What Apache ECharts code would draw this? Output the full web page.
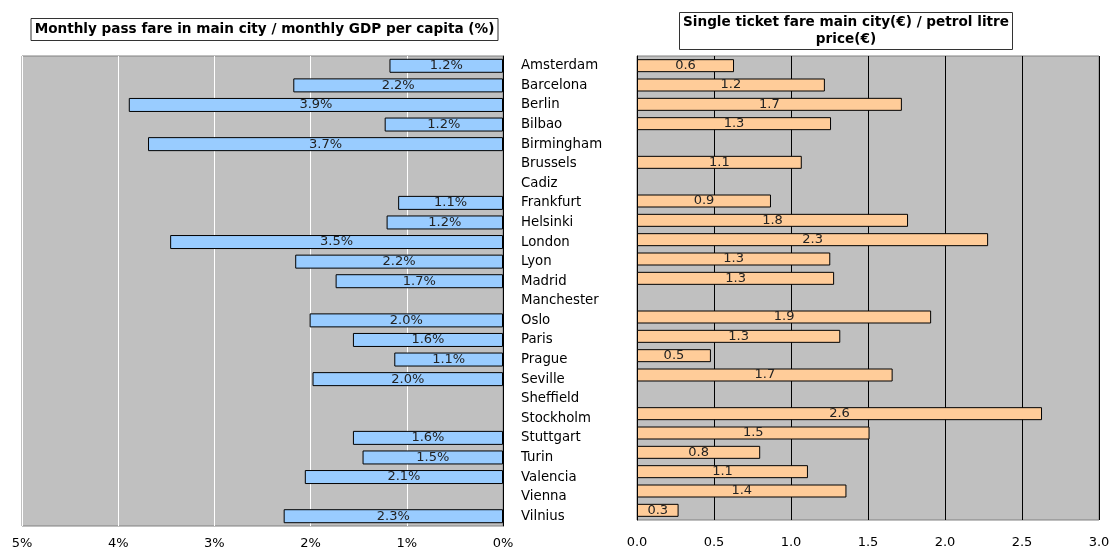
<!DOCTYPE html>
<html>
<head>
<meta charset="utf-8">
<script src="https://cdn.jsdelivr.net/npm/echarts@6/dist/echarts.min.js"></script>
<style>
  html, body { margin: 0; padding: 0; background: #fff; }
  #main { width: 1109px; height: 547px; }
</style>
</head>
<body>
<div id="main"></div>
<script>
var cities = ['Amsterdam', 'Barcelona', 'Berlin', 'Bilbao', 'Birmingham', 'Brussels', 'Cadiz',
    'Frankfurt', 'Helsinki', 'London', 'Lyon', 'Madrid', 'Manchester', 'Oslo', 'Paris', 'Prague',
    'Seville', 'Sheffield', 'Stockholm', 'Stuttgart', 'Turin', 'Valencia', 'Vienna', 'Vilnius'];

// monthly pass / monthly GDP per capita, in %
var passShare = [1.18, 2.18, 3.89, 1.23, 3.69, null, null, 1.09, 1.21, 3.46, 2.16, 1.74, null,
    2.01, 1.56, 1.13, 1.98, null, null, 1.56, 1.46, 2.06, null, 2.28];

// single ticket fare / petrol litre price
var ticketRatio = [0.63, 1.22, 1.72, 1.26, null, 1.07, null, 0.87, 1.76, 2.28, 1.255, 1.28, null,
    1.91, 1.32, 0.48, 1.66, null, 2.63, 1.51, 0.80, 1.11, 1.36, 0.27];

var passMax = 5;
var ticketMax = 3;

var font = 'DejaVu Sans';
var chart = echarts.init(document.getElementById('main'));

chart.setOption({
    animation: false,
    textStyle: { fontFamily: font },
    title: [{
        text: 'Monthly pass fare in main city / monthly GDP per capita (%)',
        left: 260.5,
        top: 18,
        textAlign: 'center',
        padding: [3, 4],
        borderColor: '#333',
        borderWidth: 1,
        textStyle: { fontSize: 13.6, fontWeight: 'bold', color: '#000', fontFamily: font, lineHeight: 17 }
    }, {
        text: 'Single ticket fare main city(€) / petrol litre\nprice(€)',
        left: 842,
        top: 12,
        textAlign: 'center',
        padding: [2, 4],
        borderColor: '#333',
        borderWidth: 1,
        textStyle: { fontSize: 13.6, fontWeight: 'bold', color: '#000', fontFamily: font, lineHeight: 17 }
    }],
    grid: [{
        left: 22, top: 56, width: 481, height: 470,
        outerBoundsMode: 'none',
        show: true, backgroundColor: '#c0c0c0', borderColor: '#808080', borderWidth: 1
    }, {
        left: 637, top: 56, width: 462, height: 464,
        outerBoundsMode: 'none',
        show: true, backgroundColor: '#c0c0c0', borderColor: '#808080', borderWidth: 1
    }],
    xAxis: [{
        gridIndex: 0,
        type: 'value',
        min: 0, max: passMax, interval: 1,
        inverse: true,
        axisLine: { show: false },
        axisTick: { show: false },
        axisLabel: { margin: 11, fontSize: 13, color: '#000', formatter: '{value}%' },
        splitLine: { lineStyle: { color: '#fff', width: 1 } }
    }, {
        gridIndex: 1,
        type: 'value',
        min: 0, max: ticketMax, interval: 0.5,
        axisLine: { show: false },
        axisTick: { show: false },
        axisLabel: { margin: 16, fontSize: 13, color: '#000', formatter: function (v) { return v.toFixed(1); } },
        splitLine: { lineStyle: { color: '#000', width: 1 } }
    }],
    yAxis: [{
        gridIndex: 0,
        type: 'category',
        data: cities,
        inverse: true,
        position: 'right',
        axisLine: { lineStyle: { color: '#000' } },
        axisTick: { length: 6, lineStyle: { color: '#000' } },
        axisLabel: { margin: 18, fontSize: 13.3, color: '#000', align: 'left' }
    }, {
        gridIndex: 1,
        type: 'category',
        data: cities,
        inverse: true,
        position: 'left',
        axisLine: { lineStyle: { color: '#000' } },
        axisTick: { length: 9, lineStyle: { color: '#000' } },
        axisLabel: { show: false }
    }],
    series: [{
        type: 'bar',
        xAxisIndex: 0,
        yAxisIndex: 0,
        data: passShare,
        barWidth: 14,
        itemStyle: { color: '#99ccff', borderColor: '#000', borderWidth: 1 },
        label: {
            show: true, position: 'inside', fontSize: 13, color: '#222',
            formatter: function (p) { return p.value.toFixed(1) + '%'; }
        }
    }, {
        type: 'bar',
        xAxisIndex: 1,
        yAxisIndex: 1,
        data: ticketRatio,
        barWidth: 13,
        itemStyle: { color: '#ffcc99', borderColor: '#000', borderWidth: 1 },
        label: {
            show: true, position: 'inside', fontSize: 13, color: '#222',
            formatter: function (p) { return p.value.toFixed(1); }
        }
    }]
});
</script>
</body>
</html>
